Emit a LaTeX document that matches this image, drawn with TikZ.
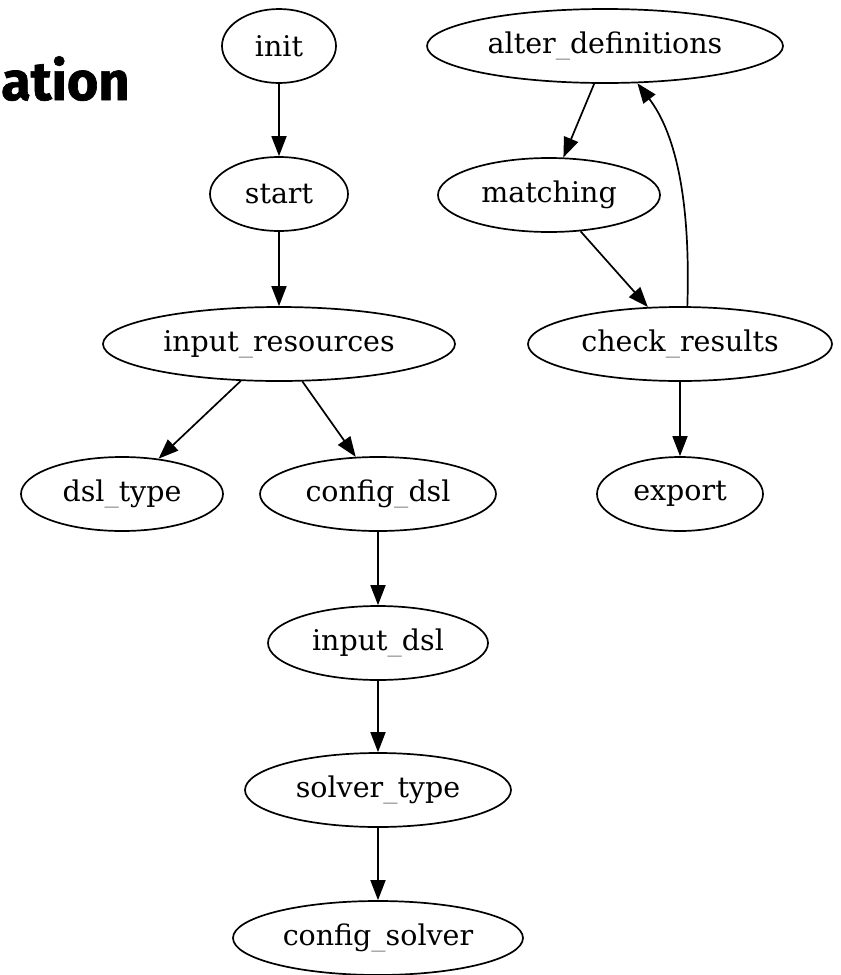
\documentclass[tikz,border=0pt]{standalone}
\usepackage{fontspec}
\setmainfont{DejaVu Serif}
\newfontfamily\titlefont[BoldFeatures={FakeBold=1.2}]{Fira Sans}
\usetikzlibrary{shapes.geometric,arrows.meta}
\newcommand\usc{\textcolor{black!45}{\_}}
\begin{document}
\begin{tikzpicture}[x=1pt,y=-1pt,
  st/.style={draw,ellipse,line width=1.7pt,inner sep=0pt,minimum height=74pt,font=\fontsize{28.5}{30}\selectfont},
  arr/.style={line width=1.7pt,-{Triangle[length=20pt,width=15pt]}}]
\useasboundingbox (0,0) rectangle (841,975);
\node[anchor=base west,inner sep=0pt,font=\titlefont\bfseries\fontsize{54}{60}\selectfont] (title) at (1,100) {ation};
\node[st,minimum width=114pt] (init) at (279,46) {init};
\node[st,minimum width=138pt] (start) at (279,194) {start};
\node[st,minimum width=352pt] (ir) at (279,344) {input\usc resources};
\node[st,minimum width=202pt] (dt) at (122,494) {dsl\usc type};
\node[st,minimum width=236pt] (cd) at (378,494) {config\usc dsl};
\node[st,minimum width=220pt] (id) at (378,643) {input\usc dsl};
\node[st,minimum width=266pt] (stp) at (378,790) {solver\usc type};
\node[st,minimum width=290pt] (cs) at (378,938) {config\usc solver};
\node[st,minimum width=356pt] (ad) at (605,46) {alter\usc definitions};
\node[st,minimum width=222pt] (ma) at (549,195) {matching};
\node[st,minimum width=304pt] (cr) at (680,344) {check\usc results};
\node[st,minimum width=166pt] (ex) at (680,494) {export};
\draw[arr] (init) -- (start);
\draw[arr] (start) -- (ir);
\draw[arr] (ir.-136) -- (dt.44);
\draw[arr] (ir.-58) -- (cd.121);
\draw[arr] (cd) -- (id);
\draw[arr] (id) -- (stp);
\draw[arr] (stp) -- (cs);
\draw[arr] (ad.-106) -- (ma.69);
\draw[arr] (ma.-49) -- (cr.131);
\draw[arr] (cr.79) .. controls +(4,-125) and +(32,42) .. (ad.-49);
\draw[arr] (cr) -- (ex);
\end{tikzpicture}
\end{document}
